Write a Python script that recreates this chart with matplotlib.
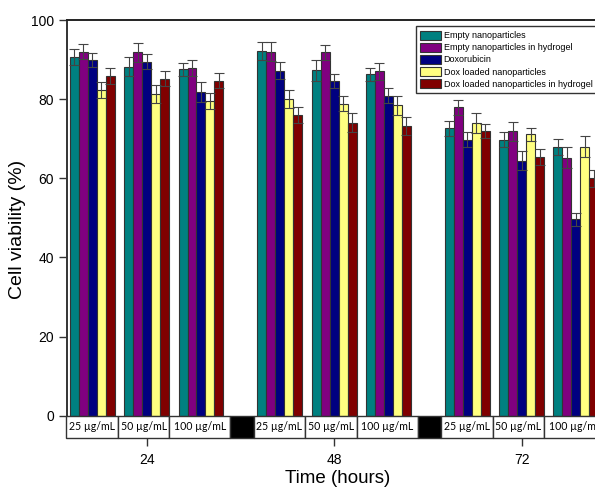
import matplotlib
matplotlib.use('Agg')
import matplotlib.pyplot as plt
from matplotlib.patches import Rectangle
import numpy as np

plt.rcParams['font.family'] = ['Liberation Sans', 'DejaVu Sans']

# data
times = [24, 48, 72]
concentrations = ['25 µg/mL', '50 µg/mL', '100 µg/mL']
series_names = ['Empty nanoparticles', 'Empty nanoparticles in hydrogel', 'Doxorubicin',
                'Dox loaded nanoparticles', 'Dox loaded nanoparticles in hydrogel']
colors = ['#008080', '#800080', '#000080', '#ffff80', '#800000']

# order: 24h (25, 50, 100), 48h (25, 50, 100), 72h (25, 50, 100)
empty_np = [90.7, 88.2, 87.5, 92.2, 87.3, 86.3, 72.6, 69.8, 68.0]
empty_np_gel = [92.0, 91.8, 87.9, 92.0, 91.8, 87.0, 77.9, 71.9, 65.2]
doxorubicin = [89.9, 89.5, 81.9, 87.2, 84.5, 80.9, 69.8, 64.4, 49.6]
dox_np = [82.4, 81.3, 79.5, 80.1, 78.9, 78.4, 74.0, 71.1, 68.0]
dox_np_gel = [85.8, 85.2, 84.6, 75.9, 74.0, 73.2, 71.9, 65.4, 60.0]

empty_np_err = [2.0, 2.4, 1.7, 2.3, 2.6, 1.7, 1.8, 1.9, 2.0]
empty_np_gel_err = [1.9, 2.5, 2.0, 2.4, 1.9, 2.2, 1.8, 2.4, 2.7]
doxorubicin_err = [1.7, 2.0, 2.5, 2.1, 1.8, 1.8, 1.8, 2.4, 1.7]
dox_np_err = [2.0, 2.2, 2.1, 2.3, 2.0, 2.4, 2.6, 1.6, 2.6]
dox_np_gel_err = [2.0, 2.0, 1.9, 2.0, 2.4, 2.2, 1.8, 2.1, 2.2]

values = [empty_np, empty_np_gel, doxorubicin, dox_np, dox_np_gel]
errors = [empty_np_err, empty_np_gel_err, doxorubicin_err, dox_np_err, dox_np_gel_err]

fig = plt.figure(figsize=(5.95, 4.92), dpi=100)
ax = fig.add_axes([0.1121, 0.1098, 0.909, 0.8495])

bar_w = 1.15
sub_gap = 6.95
table_bottom = -5.64

# bar centers for each (time, concentration) slot
slot_x = np.array([t + (j - 1) * sub_gap for t in times for j in range(3)])

for k in range(5):
    x = slot_x + (k - 2) * bar_w
    ax.bar(x, values[k], width=bar_w, color=colors[k], edgecolor='#333333',
           linewidth=0.8, label=series_names[k], zorder=2)
    ax.errorbar(x, values[k], yerr=errors[k], fmt='none', ecolor='#444444',
                elinewidth=0.8, capsize=3.5, capthick=0.8, zorder=3)

# concentration table under the bars
box_edges = [-10.3, -3.7, 2.9, 10.7, 13.7]
for t in times:
    for j in range(3):
        x0 = t + box_edges[j]
        x1 = t + box_edges[j + 1]
        ax.add_patch(Rectangle((x0, table_bottom), x1 - x0, -table_bottom,
                               facecolor='white', edgecolor='#333333', linewidth=1.0,
                               zorder=4, clip_on=False))
        ax.text((x0 + x1) / 2, table_bottom / 2, concentrations[j], ha='center', va='center',
                fontsize=7.6, family=['Lato', 'DejaVu Sans'], zorder=5)
    x0 = t + box_edges[3]
    ax.add_patch(Rectangle((x0, table_bottom), box_edges[4] - box_edges[3], -table_bottom,
                           facecolor='black', edgecolor='#333333', linewidth=1.0,
                           zorder=4, clip_on=False))

ax.set_xlim(13.76, 83)
ax.set_ylim(table_bottom, 100)
ax.set_yticks([0, 20, 40, 60, 80, 100])
ax.set_xticks(times)
ax.tick_params(axis='both', direction='out', length=6, width=1, labelsize=10, color='#333333')
ax.tick_params(axis='x', pad=5)
ax.tick_params(axis='y', pad=3)

ax.spines['bottom'].set_visible(False)
ax.spines['right'].set_visible(False)
ax.spines['left'].set_linewidth(1.4)
ax.spines['left'].set_color('#333333')
ax.spines['top'].set_linewidth(1.4)
ax.spines['top'].set_color('#222222')

ax.set_ylabel('Cell viability (%)', fontsize=14, labelpad=4)
ax.set_xlabel('Time (hours)', fontsize=13.5, labelpad=2)

leg = ax.legend(loc='upper right', bbox_to_anchor=(597 / 595, 1 - 26 / 492),
                bbox_transform=fig.transFigure, borderaxespad=0, fontsize=6.5,
                handlelength=2.3, handleheight=1.25, handletextpad=0.3,
                labelspacing=0.25, borderpad=0.5, fancybox=False, framealpha=1)
leg.get_frame().set_edgecolor('#333333')
leg.get_frame().set_linewidth(1.0)
leg.set_zorder(6)

fig.savefig('out.png', dpi=100)
